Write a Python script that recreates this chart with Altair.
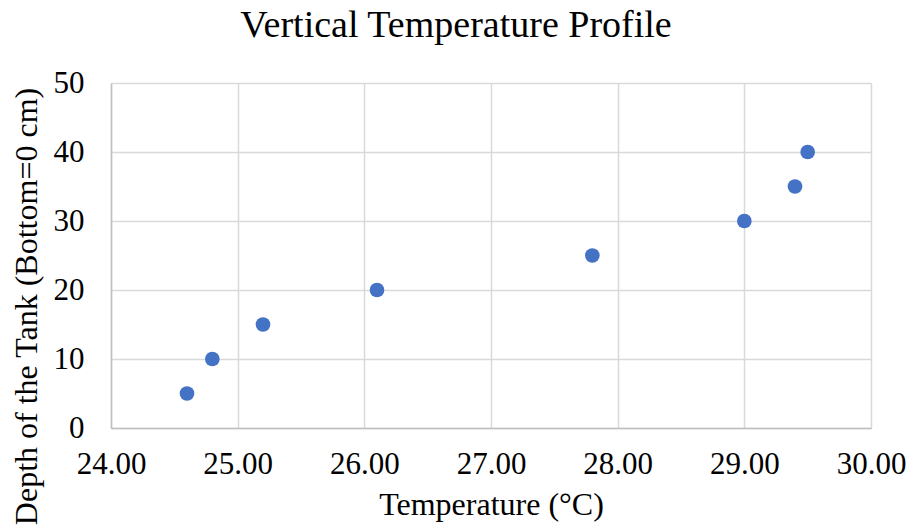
import altair as alt
import pandas as pd

temperature = [24.6, 24.8, 25.2, 26.1, 27.8, 29.0, 29.4, 29.5]
depth = [5, 10, 15, 20, 25, 30, 35, 40]
x_ticks = [24, 25, 26, 27, 28, 29, 30]
y_ticks = [0, 10, 20, 30, 40, 50]

df = pd.DataFrame({"Temperature": temperature, "Depth": depth})

FONT = "Liberation Serif"

chart = alt.Chart(df).mark_circle(size=215, color="#4472C4", opacity=1).encode(
    x=alt.X("Temperature:Q",
            scale=alt.Scale(domain=[24, 30], nice=False, zero=False),
            axis=alt.Axis(title="Temperature (°C)", values=x_ticks, format=".2f",
                          ticks=False, labelPadding=21, titlePadding=10, labelFlush=False,
                          labelOverlap=False,
                          labelFontSize=31, titleFontSize=32, labelFont=FONT, titleFont=FONT,
                          labelColor="#000000", titleColor="#000000", titleFontWeight="normal",
                          gridColor="#d9d9d9", gridWidth=1.5, domainColor="#bfbfbf", domainWidth=1.5)),
    y=alt.Y("Depth:Q",
            scale=alt.Scale(domain=[0, 50], nice=False),
            axis=alt.Axis(title="Depth of the Tank (Bottom=0 cm)", values=y_ticks,
                          ticks=False, labelPadding=27, labelFlush=False, labelOverlap=False,
                          labelFontSize=31, titleFontSize=32, labelFont=FONT, titleFont=FONT,
                          labelColor="#000000", titleColor="#000000", titleFontWeight="normal",
                          titleX=-85, titleY=223, titleAlign="center", titleAngle=-90,
                          titleBaseline="middle",
                          gridColor="#d9d9d9", gridWidth=1.5, domainColor="#bfbfbf", domainWidth=1.5)),
).properties(
    width=760, height=345,
    title=alt.TitleParams("Vertical Temperature Profile", font=FONT, fontSize=38,
                          fontWeight="normal", color="#000000", dx=-35, offset=22),
    autosize=alt.AutoSizeParams(type="none"),
    padding={"left": 111, "top": 83, "right": 42, "bottom": 103},
).configure_view(stroke=None)

chart.save("out.html", embed_options={"renderer": "svg", "actions": False})
